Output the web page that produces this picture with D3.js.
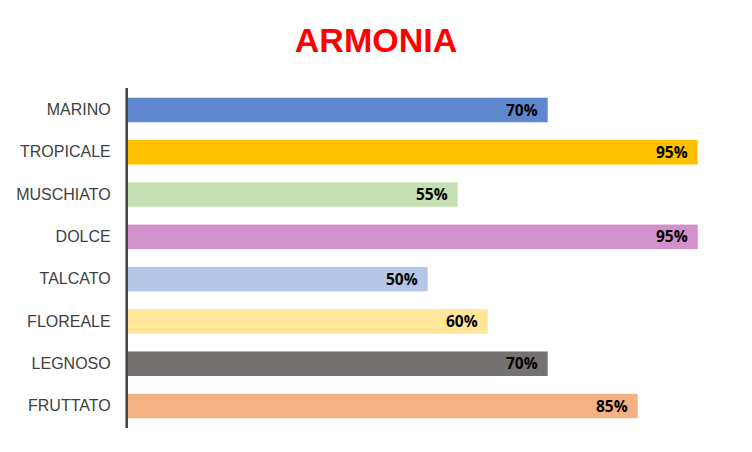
<!DOCTYPE html>
<html><head><meta charset="utf-8">
<script src="https://cdn.jsdelivr.net/npm/d3@7"></script>
<style>body{margin:0;background:#fff}</style>
</head><body>
<svg id="c" width="752" height="452"></svg>
<script>
const categories = ["MARINO","TROPICALE","MUSCHIATO","DOLCE","TALCATO","FLOREALE","LEGNOSO","FRUTTATO"];
const values = [0.70,0.95,0.55,0.95,0.50,0.60,0.70,0.85];
const colors = ["#5F87CF","#FFC000","#C6E0B4","#D391CB","#B4C7E7","#FFE699","#767171","#F4B183"];
const title = "ARMONIA";

const svg = d3.select("#c");
svg.append("rect").attr("width",752).attr("height",452).attr("fill","#fff");

const x = d3.scaleLinear().domain([0,1]).range([127.7,727.7]);
const y = d3.scaleBand().domain(categories).range([88,428]).paddingInner(0.42).paddingOuter(0.23);

svg.append("text").attr("x",376).attr("y",52).attr("text-anchor","middle")
  .attr("font-family","Liberation Sans, Arial, sans-serif").attr("font-weight","bold")
  .attr("font-size",34).attr("fill","#FF0000").text(title);

const data = categories.map((c,i)=>({c, v:values[i], col:colors[i]}));

svg.selectAll("rect.bar").data(data).join("rect").attr("class","bar")
  .attr("x",x(0)).attr("y",d=>y(d.c)).attr("width",d=>x(d.v)-x(0)).attr("height",y.bandwidth())
  .attr("fill",d=>d.col);

svg.selectAll("text.val").data(data).join("text").attr("class","val")
  .attr("x",d=>x(d.v)-10).attr("y",d=>y(d.c)+y.bandwidth()/2).attr("dy","0.36em")
  .attr("text-anchor","end").attr("font-family","Open Sans, Liberation Sans, Arial, sans-serif")
  .attr("font-weight","bold").attr("font-size",15.5).attr("fill","#000")
  .text(d=>Math.round(d.v*100)+"%");

const ax = svg.append("g").attr("transform",`translate(${x(0)-1},0)`)
  .call(d3.axisLeft(y).tickSize(0).tickPadding(16));
ax.select(".domain").attr("stroke","#404040").attr("stroke-width",2.5).attr("d","M0,88V428");
ax.selectAll("text").attr("font-family","Liberation Sans, Arial, sans-serif")
  .attr("font-size",16).attr("fill","#404040");
</script>
</body></html>
